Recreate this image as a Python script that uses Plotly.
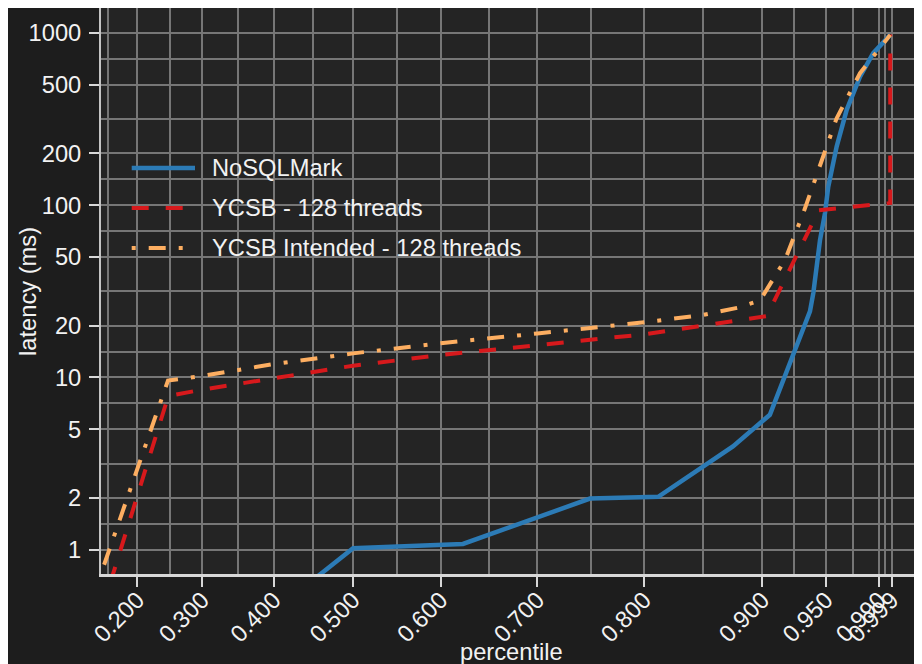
import numpy as np
import plotly.graph_objects as go

# ---------------- data ----------------
tick_percentiles = [0.2, 0.3, 0.4, 0.5, 0.6, 0.7, 0.8, 0.9, 0.95, 0.99, 0.999]
tick_labels = ["0.200", "0.300", "0.400", "0.500", "0.600", "0.700", "0.800",
               "0.900", "0.950", "0.990", "0.999"]
y_ticks = [1, 2, 5, 10, 20, 50, 100, 200, 500, 1000]
y_tick_labels = ["1", "2", "5", "10", "20", "50", "100", "200", "500", "1000"]

nosql_p = [0.40, 0.500, 0.624, 0.7505, 0.8124, 0.876, 0.906, 0.9376, 0.9402,
           0.9454, 0.9492, 0.9517, 0.9581, 0.9657, 0.9757, 0.9855, 0.998]
nosql_lat = [0.44, 1.02, 1.08, 1.98, 2.03, 3.98, 6.07, 24.2, 30.9,
             63, 90, 128, 219, 358, 558, 763, 975]

ycsb_p = [0.155, 0.249, 0.30, 0.40, 0.50, 0.60, 0.70, 0.80, 0.9035, 0.9444, 0.998, 0.998]
ycsb_lat = [0.64, 7.8, 8.5, 9.9, 11.7, 13.5, 15.4, 17.8, 22.7, 93.4, 103, 980]

intended_p = [0.135, 0.2485, 0.30, 0.40, 0.50, 0.60, 0.70, 0.80, 0.85, 0.88,
              0.8981, 0.9181, 0.9324, 0.9454, 0.9581, 0.9757, 0.998]
intended_lat = [0.66, 9.6, 10.2, 11.96, 13.8, 15.8, 18.0, 20.9, 23.0, 25.4,
                28.0, 48.2, 90, 168, 320, 584, 975]

series_names = ["NoSQLMark", "YCSB - 128 threads", "YCSB Intended - 128 threads"]

# ---------------- styling ----------------
BLUE = "#2c7bb6"
RED = "#d7191c"
ORANGE = "#fdae61"
RED_DASH = "17px,17px"
ORANGE_DASH = "4px,13px,17px,13px"
TEXT = "#f2f2f2"
GRID = "#767676"
AXLINE = "#d8d8d8"
BG = "#1d1d1d"
PANEL = "#242424"
FONT = "Liberation Sans, Arial, sans-serif"
FS = 23.7


def xt(p):
    """percentile scale transform (exp), as in the original figure"""
    return np.exp(np.asarray(p, dtype=float))


fig = go.Figure()
fig.add_trace(go.Scatter(x=xt(nosql_p), y=nosql_lat, mode="lines", name=series_names[0],
                         line=dict(color=BLUE, width=4.5)))
fig.add_trace(go.Scatter(x=xt(ycsb_p), y=ycsb_lat, mode="lines", name=series_names[1],
                         line=dict(color=RED, width=4, dash=RED_DASH)))
fig.add_trace(go.Scatter(x=xt(intended_p), y=intended_lat, mode="lines", name=series_names[2],
                         line=dict(color=ORANGE, width=4, dash=ORANGE_DASH)))

# minor grid lines at midpoints (in transformed space) between major breaks
x_major_t = xt([0.1] + tick_percentiles)
x_minor = list((x_major_t[:-1] + x_major_t[1:]) / 2)
y_major_l = np.log10([0.5] + y_ticks + [2000])
y_minor = list(10 ** ((y_major_l[:-1] + y_major_l[1:]) / 2))

axis_common = dict(
    ticks="outside", ticklen=10, tickwidth=2, tickcolor=AXLINE,
    showgrid=True, gridcolor=GRID, gridwidth=2,
    zeroline=False, automargin=False,
    tickfont=dict(family=FONT, size=FS, color=TEXT),
)

fig.update_xaxes(
    range=[1.1494, 2.7758],
    tickmode="array", tickvals=list(xt(tick_percentiles)), ticktext=tick_labels,
    tickangle=-45, ticklabelstandoff=-10,
    showline=True, linecolor=AXLINE, linewidth=2.5, mirror=True,
    minor=dict(tickmode="array", tickvals=x_minor, showgrid=True,
               gridcolor=GRID, gridwidth=2, ticks=""),
    **axis_common,
)
fig.update_yaxes(
    type="log", range=[-0.141, 3.145],
    tickmode="array", tickvals=y_ticks, ticktext=y_tick_labels,
    showline=True, linecolor="#c4c4c4", linewidth=2,
    ticklabelstandoff=3,
    minor=dict(tickmode="array", tickvals=y_minor, showgrid=True,
               gridcolor=GRID, gridwidth=2, ticks=""),
    **axis_common,
)

# legend drawn as keys + labels inside the panel
legend_y = [0.7173, 0.6466, 0.576]
legend_styles = [dict(color=BLUE, width=4.5, dash="solid"),
                 dict(color=RED, width=4, dash=RED_DASH),
                 dict(color=ORANGE, width=4, dash=ORANGE_DASH)]
shapes = []
annotations = []
for name, ly, st in zip(series_names, legend_y, legend_styles):
    shapes.append(dict(type="line", xref="paper", yref="paper",
                       x0=0.0374, x1=0.1145, y0=ly, y1=ly, line=st))
    annotations.append(dict(text=name, xref="paper", yref="paper", x=0.1324, y=ly,
                            xanchor="left", yanchor="middle", showarrow=False,
                            font=dict(family=FONT, size=FS, color=TEXT)))

annotations.append(dict(text="percentile", xref="paper", yref="paper", x=0.5, y=-0.138,
                        xanchor="center", yanchor="middle", showarrow=False,
                        font=dict(family=FONT, size=FS, color=TEXT)))
annotations.append(dict(text="latency (ms)", xref="paper", yref="paper", x=-0.089, y=0.5,
                        xanchor="center", yanchor="middle", textangle=-90, showarrow=False,
                        font=dict(family=FONT, size=FS, color=TEXT)))

# the page body adds an 8px offset; size the figure so the panel lands where it should
fig.update_layout(
    width=914, height=656,
    margin=dict(l=93, r=0, t=0, b=90),
    paper_bgcolor=BG, plot_bgcolor=PANEL,
    font=dict(family=FONT, size=FS, color=TEXT),
    showlegend=False,
    shapes=shapes, annotations=annotations,
)

fig.write_html("out.html")
